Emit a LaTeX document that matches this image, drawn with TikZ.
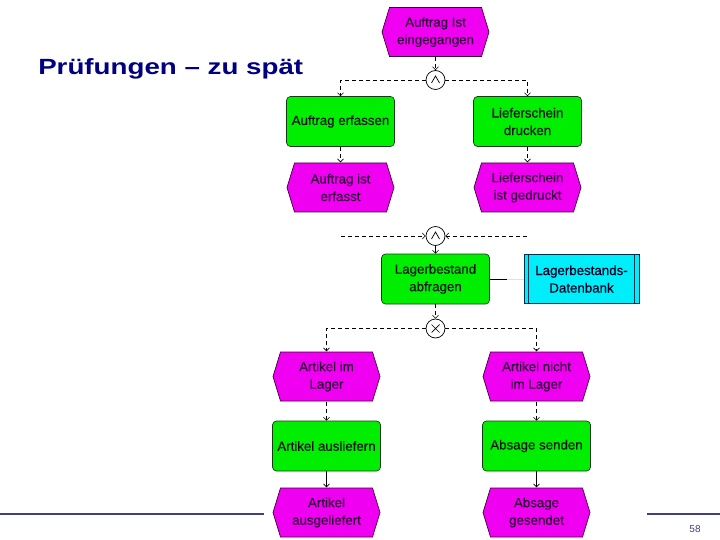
\documentclass[tikz,border=0pt]{standalone}
\usepackage{fontspec}
\setmainfont{Liberation Sans}
\newfontfamily\diafont[FakeBold=0.35]{Liberation Sans}
\usetikzlibrary{arrows.meta,calc}
\definecolor{evfill}{RGB}{240,0,240}
\definecolor{evtext}{RGB}{48,0,58}
\definecolor{fnfill}{RGB}{0,238,0}
\definecolor{fnline}{RGB}{20,60,20}
\definecolor{dbfill}{RGB}{0,238,250}
\definecolor{dbline}{RGB}{0,50,80}
\definecolor{titleblue}{RGB}{0,0,128}
\definecolor{slideblue}{RGB}{64,64,128}
\tikzset{
  txt/.style={font=\diafont\fontsize{13.3}{17.5}\selectfont, align=center},
  evt/.style={txt, text=evtext, minimum width=108pt, minimum height=50pt, inner sep=0pt,
    path picture={
      \filldraw[fill=evfill, draw=black!75!evfill, line width=0.7pt]
        ([xshift=0.5pt]path picture bounding box.west)
        -- ([xshift=8pt,yshift=-0.5pt]path picture bounding box.north west)
        -- ([xshift=-8pt,yshift=-0.5pt]path picture bounding box.north east)
        -- ([xshift=-0.5pt]path picture bounding box.east)
        -- ([xshift=-8pt,yshift=0.5pt]path picture bounding box.south east)
        -- ([xshift=8pt,yshift=0.5pt]path picture bounding box.south west)
        -- cycle;}},
  fn/.style={txt, text=black!92, draw=fnline, fill=fnfill, line width=0.7pt, rounded corners=4pt,
    minimum width=108pt, minimum height=50pt, inner sep=0pt},
  dbstore/.style={txt, text=black!85!blue, draw=dbline, fill=dbfill, line width=0.7pt,
    minimum width=115pt, minimum height=49pt, inner sep=0pt,
    path picture={
      \draw[dbline, line width=0.7pt]
        ([xshift=4.5pt]path picture bounding box.north west) -- ([xshift=4.5pt]path picture bounding box.south west)
        ([xshift=-4.5pt]path picture bounding box.north east) -- ([xshift=-4.5pt]path picture bounding box.south east);}},
  opnode/.style={circle, draw=black, fill=white, line width=0.7pt, minimum size=19pt, inner sep=0pt},
  andop/.style={opnode, path picture={
      \draw[line width=0.7pt] ([shift={(-4pt,-3pt)}]path picture bounding box.center)
        -- ([shift={(0pt,4pt)}]path picture bounding box.center)
        -- ([shift={(4pt,-3pt)}]path picture bounding box.center);}},
  xorop/.style={opnode, path picture={
      \draw[line width=0.7pt] ([shift={(-4pt,-4pt)}]path picture bounding box.center)
        -- ([shift={(4pt,4pt)}]path picture bounding box.center)
        ([shift={(-4pt,4pt)}]path picture bounding box.center)
        -- ([shift={(4pt,-4pt)}]path picture bounding box.center);}},
  conn/.style={line width=0.6pt, dash pattern=on 4pt off 3pt, -{Straight Barb[length=3pt,width=6pt]}},
  sconn/.style={line width=0.6pt, -{Straight Barb[length=3pt,width=6pt]}},
  slideline/.style={slideblue, line width=2.6pt}
}
\begin{document}
\begin{tikzpicture}[x=1pt,y=-1pt]
\useasboundingbox (0,0) rectangle (720,540);
\fill[white] (0,0) rectangle (720,540);

\node[anchor=base west, inner sep=0pt, font=\fontsize{22}{26}\selectfont\bfseries, text=titleblue, xscale=1.26] (title) at (38,75) {Prüfungen – zu spät};

\draw[slideline] (0,514) -- (264,514);
\draw[slideline] (647,514) -- (720,514);
\node[font=\fontsize{10}{11}\selectfont, text=slideblue] (pg) at (695,529) {58};

\node[evt] (e1) at (435.5,32) {Auftrag Ist\\eingegangen};
\node[andop] (and1) at (435.5,80) {};
\node[fn] (f1) at (340.5,121.5) {Auftrag erfassen};
\node[fn] (f2) at (527.5,121.5) {Lieferschein\\drucken};
\node[evt] (e2) at (340.5,187.5) {Auftrag ist\\erfasst};
\node[evt] (e3) at (527.5,187.5) {Lieferschein\\ist gedruckt};
\node[andop] (and2) at (435.5,236) {};
\node[fn] (f3) at (435.5,279) {Lagerbestand\\abfragen};
\node[dbstore] (db) at (581.5,279) {Lagerbestands-\\Datenbank};
\node[xorop] (xor) at (435.5,328.5) {};
\node[evt] (e4) at (326.5,376.5) {Artikel im\\Lager};
\node[evt] (e5) at (536.5,376.5) {Artikel nicht\\im Lager};
\node[fn] (f4) at (326.5,446) {Artikel ausliefern};
\node[fn] (f5) at (536.5,446) {Absage senden};
\node[evt] (e6) at (326.5,512.5) {Artikel\\ausgeliefert};
\node[evt] (e7) at (536.5,512.5) {Absage\\gesendet};

\draw[conn] (e1.south) -- (and1.north);
\draw[conn] (and1.west) -| (f1.north);
\draw[conn] (and1.east) -| (f2.north);
\draw[conn] (f1.south) -- (e2.north);
\draw[conn] (f2.south) -- (e3.north);
\coordinate (j1) at (341,236);
\coordinate (j2) at (527,236);
\draw[conn] (j1) -- (and2.west);
\draw[conn] (j2) -- (and2.east);
\draw[sconn] (and2.south) -- (f3.north);
\coordinate (m) at (507,279);
\draw[line width=0.7pt] (f3.east) -- (m);
\draw[black!12, line width=0.7pt] (m) -- (db.west);
\draw[conn] (f3.south) -- (xor.north);
\draw[conn] (xor.west) -| (e4.north);
\draw[conn] (xor.east) -| (e5.north);
\draw[conn] (e4.south) -- (f4.north);
\draw[conn] (e5.south) -- (f5.north);
\draw[sconn] (f4.south) -- (e6.north);
\draw[sconn] (f5.south) -- (e7.north);
\end{tikzpicture}
\end{document}
